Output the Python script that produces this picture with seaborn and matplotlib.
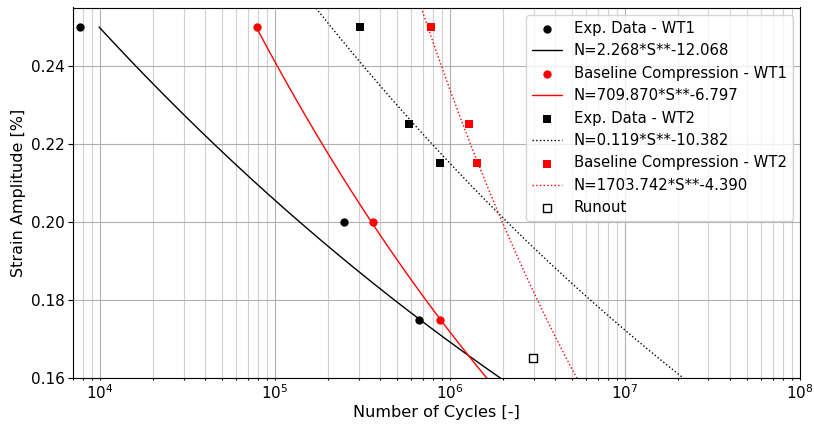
import numpy as np
import pandas as pd
import matplotlib
matplotlib.use("Agg")
import matplotlib.pyplot as plt
import seaborn as sns

# ---- data ----
wt1_exp_N = [7.7e3, 2.48e5, 6.65e5]
wt1_exp_S = [0.25, 0.20, 0.175]
wt1_base_N = [7.86e4, 3.61e5, 8.73e5]
wt1_base_S = [0.25, 0.20, 0.175]
wt2_exp_N = [3.05e5, 5.81e5, 8.77e5]
wt2_exp_S = [0.25, 0.225, 0.215]
wt2_base_N = [7.78e5, 1.28e6, 1.42e6]
wt2_base_S = [0.25, 0.225, 0.215]
runout_N = [2.99e6]
runout_S = [0.165]

# fitted power laws  N = 10**log_a * S**b  (as drawn in the reference)
fit_labels = ["N=2.268*S**-12.068", "N=709.870*S**-6.797",
              "N=0.119*S**-10.382", "N=1703.742*S**-4.390"]
fit_log_a = [-3.128, 0.800, -0.930, 3.230]
fit_b = [-11.83, -6.797, -10.382, -4.390]
fit_S_max = [0.25, 0.25, 0.30, 0.30]
fit_S_min = 0.15

sns.set_style("white")
plt.rcParams['font.family'] = ['DejaVu Sans']
plt.rcParams['font.size'] = 11
plt.rcParams['text.color'] = 'black'
plt.rcParams['axes.labelcolor'] = 'black'
plt.rcParams['xtick.color'] = 'black'
plt.rcParams['ytick.color'] = 'black'

fig = plt.figure(figsize=(8.14, 4.25), dpi=100)
ax = fig.add_axes([72.7/814, 1 - 378/425, (800 - 72.7)/814, (378 - 7.5)/425])

def fit_curve(i):
    S = np.linspace(fit_S_min, fit_S_max[i], 300)
    N = 10 ** fit_log_a[i] * S ** fit_b[i]
    return pd.DataFrame({"N": N, "S": S})

def pts(N, S):
    return pd.DataFrame({"N": N, "S": S})

sns.scatterplot(data=pts(wt1_exp_N, wt1_exp_S), x="N", y="S", ax=ax, color="black",
                marker="o", s=36, linewidth=0, label="Exp. Data - WT1", zorder=3)
sns.lineplot(data=fit_curve(0), x="N", y="S", ax=ax, color="black", lw=1,
             sort=False, estimator=None, label=fit_labels[0])
sns.scatterplot(data=pts(wt1_base_N, wt1_base_S), x="N", y="S", ax=ax, color="red",
                marker="o", s=36, linewidth=0, label="Baseline Compression - WT1", zorder=3)
sns.lineplot(data=fit_curve(1), x="N", y="S", ax=ax, color="red", lw=1,
             sort=False, estimator=None, label=fit_labels[1])
sns.scatterplot(data=pts(wt2_exp_N, wt2_exp_S), x="N", y="S", ax=ax, color="black",
                marker="s", s=30, linewidth=0, label="Exp. Data - WT2", zorder=3)
sns.lineplot(data=fit_curve(2), x="N", y="S", ax=ax, color="black", lw=1, ls=":",
             sort=False, estimator=None, label=fit_labels[2])
sns.scatterplot(data=pts(wt2_base_N, wt2_base_S), x="N", y="S", ax=ax, color="red",
                marker="s", s=30, linewidth=0, label="Baseline Compression - WT2", zorder=3)
sns.lineplot(data=fit_curve(3), x="N", y="S", ax=ax, color="red", lw=1, ls=":",
             sort=False, estimator=None, label=fit_labels[3])
sns.scatterplot(data=pts(runout_N, runout_S), x="N", y="S", ax=ax, facecolor="white",
                edgecolor="black", marker="s", s=30, linewidth=1, label="Runout", zorder=3)

ax.set_xscale("log")
ax.set_xlim(6.98e3, 1e8)
ax.set_ylim(0.16, 0.255)
ax.set_yticks([0.16, 0.18, 0.20, 0.22, 0.24])
ax.set_xlabel("Number of Cycles [-]", fontsize=11.6, labelpad=2)
ax.set_ylabel("Strain Amplitude [%]", fontsize=11.5)
ax.tick_params(axis="y", which="major", labelsize=11, direction="out", length=3.5,
               left=True, pad=2)
ax.tick_params(axis="x", which="both", labelsize=11, length=1.7, width=0.8,
               bottom=True, pad=2)
ax.grid(True, which="major", color="#b0b0b0", lw=0.8)
ax.grid(True, which="minor", axis="x", color="#d0d0d0", lw=0.8)
ax.set_axisbelow(True)
for sp in ax.spines.values():
    sp.set_color("black")
    sp.set_linewidth(0.8)

ax.legend(loc="upper right", fontsize=10.7, frameon=True, framealpha=0.8,
          edgecolor="#cccccc", fancybox=True)

fig.savefig("out.png", dpi=100)
